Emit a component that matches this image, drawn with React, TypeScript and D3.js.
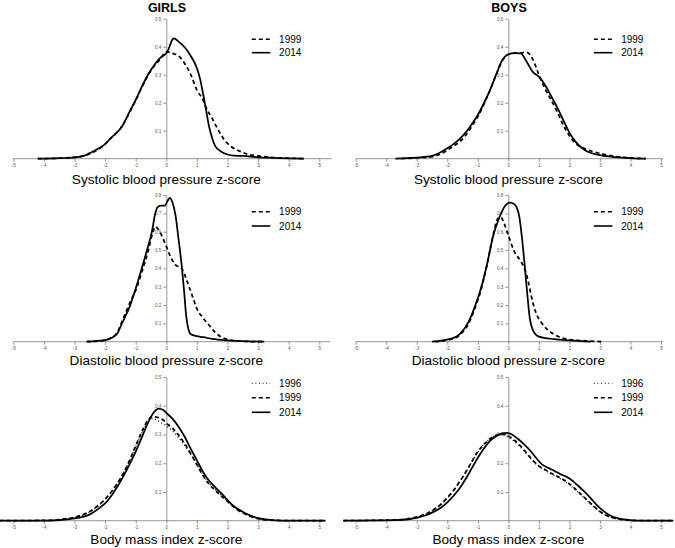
import { useEffect, useRef } from "react";
import * as d3 from "d3";

type Pt = [number, number];

// tick values and labels
const xTicks = [-5, -4, -3, -2, -1, 0, 1, 2, 3, 4, 5];
const yTicksBp = [0.1, 0.2, 0.3, 0.4, 0.5];
const yTicksDbp = [0.1, 0.2, 0.3, 0.4, 0.5, 0.6, 0.7, 0.8];
const groupTitles = ["GIRLS", "BOYS"];
const measureLabels = [
  "Systolic blood pressure z-score",
  "Diastolic blood pressure z-score",
  "Body mass index z-score",
];

// densities: [z-score, density]
const girlsSbp1999: Pt[] = [
  [-4.2, 0], [-3.5, 0.002], [-3, 0.005], [-2.7, 0.01], [-2.5, 0.018], [-2.2, 0.035],
  [-2, 0.052], [-1.8, 0.074], [-1.65, 0.09], [-1.5, 0.108], [-1.4, 0.124], [-1.2, 0.165],
  [-1, 0.208], [-0.8, 0.255], [-0.6, 0.298], [-0.4, 0.33], [-0.2, 0.355], [0, 0.382],
  [0.2, 0.376], [0.4, 0.367], [0.6, 0.34], [0.8, 0.3], [1, 0.245], [1.2, 0.21],
  [1.3, 0.183], [1.5, 0.144], [1.7, 0.102], [1.9, 0.067], [2.1, 0.045], [2.4, 0.027],
  [2.7, 0.015], [3, 0.01], [3.5, 0.004], [4, 0.002], [4.5, 0],
];
const girlsSbp2014: Pt[] = [
  [-4.2, 0], [-3.5, 0.002], [-3, 0.005], [-2.7, 0.01], [-2.5, 0.02], [-2.2, 0.037],
  [-2, 0.052], [-1.8, 0.075], [-1.65, 0.09], [-1.5, 0.107], [-1.4, 0.124], [-1.2, 0.168],
  [-1, 0.21], [-0.8, 0.257], [-0.6, 0.3], [-0.4, 0.334], [-0.2, 0.36], [-0.05, 0.372],
  [0.05, 0.385], [0.12, 0.405], [0.2, 0.426], [0.25, 0.43], [0.4, 0.418], [0.6, 0.398],
  [0.8, 0.367], [1, 0.323], [1.1, 0.287], [1.2, 0.233], [1.3, 0.174], [1.4, 0.114],
  [1.5, 0.073], [1.6, 0.045], [1.8, 0.025], [2, 0.015], [2.2, 0.011], [2.5, 0.01],
  [3, 0.005], [3.5, 0.003], [4, 0.001], [4.5, 0],
];
const boysSbp1999: Pt[] = [
  [-3.5, 0], [-3, 0.003], [-2.5, 0.007], [-2.2, 0.018], [-2, 0.03], [-1.8, 0.045],
  [-1.6, 0.06], [-1.4, 0.083], [-1.2, 0.115], [-1, 0.15], [-0.8, 0.195], [-0.6, 0.245],
  [-0.4, 0.3], [-0.2, 0.35], [0, 0.372], [0.2, 0.377], [0.4, 0.378], [0.6, 0.38],
  [0.8, 0.355], [1, 0.3], [1.2, 0.25], [1.4, 0.21], [1.6, 0.168], [1.8, 0.12],
  [2, 0.082], [2.2, 0.055], [2.5, 0.036], [3, 0.019], [3.5, 0.008], [4, 0.003], [4.5, 0],
];
const boysSbp2014: Pt[] = [
  [-3.7, 0], [-3, 0.004], [-2.5, 0.01], [-2.2, 0.024], [-2, 0.037], [-1.8, 0.052],
  [-1.6, 0.07], [-1.4, 0.093], [-1.2, 0.123], [-1, 0.156], [-0.8, 0.198], [-0.6, 0.245],
  [-0.4, 0.3], [-0.2, 0.352], [0, 0.373], [0.2, 0.377], [0.4, 0.376], [0.6, 0.346],
  [0.8, 0.31], [1, 0.293], [1.2, 0.263], [1.4, 0.224], [1.6, 0.183], [1.8, 0.138],
  [2, 0.093], [2.2, 0.061], [2.4, 0.039], [2.6, 0.025], [3, 0.013], [3.5, 0.006],
  [4, 0.002], [4.5, 0],
];
const girlsDbp1999: Pt[] = [
  [-2.6, 0], [-2, 0.008], [-1.8, 0.022], [-1.6, 0.05], [-1.45, 0.11], [-1.3, 0.17],
  [-1.1, 0.245], [-1, 0.28], [-0.8, 0.38], [-0.6, 0.49], [-0.45, 0.59], [-0.36, 0.627],
  [-0.25, 0.61], [-0.1, 0.56], [0, 0.52], [0.13, 0.467], [0.29, 0.42], [0.5, 0.4],
  [0.7, 0.32], [0.85, 0.25], [1, 0.18], [1.2, 0.13], [1.4, 0.09], [1.6, 0.05],
  [1.8, 0.025], [2, 0.012], [2.3, 0.005], [2.8, 0.001], [3.2, 0],
];
const girlsDbp2014: Pt[] = [
  [-2.6, 0], [-2, 0.008], [-1.8, 0.02], [-1.6, 0.045], [-1.45, 0.1], [-1.2, 0.19],
  [-1, 0.29], [-0.8, 0.4], [-0.63, 0.5], [-0.47, 0.6], [-0.36, 0.7], [-0.28, 0.735],
  [-0.15, 0.742], [-0.05, 0.742], [0.05, 0.77], [0.12, 0.785], [0.2, 0.76], [0.3, 0.69],
  [0.4, 0.56], [0.5, 0.42], [0.58, 0.28], [0.65, 0.14], [0.72, 0.07], [0.8, 0.04],
  [1, 0.03], [1.2, 0.025], [1.5, 0.015], [2, 0.007], [2.5, 0.003], [3.2, 0],
];
const boysDbp1999: Pt[] = [
  [-2.4, 0], [-1.9, 0.012], [-1.6, 0.035], [-1.3, 0.1], [-1.1, 0.18], [-0.9, 0.28],
  [-0.7, 0.42], [-0.5, 0.58], [-0.35, 0.67], [-0.25, 0.68], [-0.15, 0.65], [0, 0.58],
  [0.2, 0.49], [0.4, 0.44], [0.55, 0.39], [0.65, 0.33], [0.75, 0.25], [0.9, 0.16],
  [1.1, 0.1], [1.4, 0.05], [1.65, 0.027], [2, 0.012], [2.4, 0.006], [3.1, 0],
];
const boysDbp2014: Pt[] = [
  [-2.5, 0], [-1.9, 0.015], [-1.6, 0.04], [-1.3, 0.11], [-1.1, 0.19], [-0.9, 0.29],
  [-0.7, 0.42], [-0.5, 0.575], [-0.3, 0.675], [-0.15, 0.73], [0.05, 0.758], [0.2, 0.75],
  [0.35, 0.69], [0.45, 0.56], [0.55, 0.39], [0.62, 0.26], [0.7, 0.13], [0.8, 0.065],
  [1, 0.028], [1.5, 0.014], [2, 0.007], [2.7, 0],
];
const girlsBmi1996: Pt[] = [
  [-5.45, 0], [-4, 0.001], [-3.5, 0.004], [-3, 0.011], [-2.7, 0.021], [-2.5, 0.031],
  [-2.2, 0.054], [-2, 0.074], [-1.8, 0.1], [-1.6, 0.13], [-1.4, 0.166], [-1.2, 0.21],
  [-1, 0.258], [-0.8, 0.305], [-0.6, 0.345], [-0.5, 0.355], [-0.35, 0.352], [-0.2, 0.343],
  [0, 0.33], [0.2, 0.312], [0.4, 0.29], [0.6, 0.262], [0.8, 0.23], [1, 0.195],
  [1.2, 0.16], [1.4, 0.13], [1.6, 0.108], [1.8, 0.088], [2, 0.068], [2.2, 0.049],
  [2.4, 0.034], [2.6, 0.022], [2.8, 0.013], [3, 0.007], [3.4, 0.002], [4, 0], [5.2, 0],
];
const girlsBmi1999: Pt[] = [
  [-5.45, 0], [-4, 0.001], [-3.5, 0.004], [-3, 0.012], [-2.7, 0.022], [-2.5, 0.032],
  [-2.2, 0.055], [-2, 0.075], [-1.8, 0.1], [-1.6, 0.13], [-1.4, 0.165], [-1.2, 0.21],
  [-1, 0.26], [-0.8, 0.31], [-0.6, 0.35], [-0.45, 0.362], [-0.3, 0.36], [-0.1, 0.35],
  [0, 0.34], [0.2, 0.322], [0.4, 0.298], [0.6, 0.268], [0.8, 0.233], [1, 0.195],
  [1.2, 0.157], [1.4, 0.127], [1.6, 0.106], [1.8, 0.086], [2, 0.067], [2.2, 0.048],
  [2.4, 0.033], [2.6, 0.022], [2.8, 0.013], [3, 0.007], [3.4, 0.002], [4, 0], [5.2, 0],
];
const girlsBmi2014: Pt[] = [
  [-5.45, 0], [-4, 0], [-3.5, 0.002], [-3, 0.008], [-2.7, 0.014], [-2.5, 0.022],
  [-2.2, 0.043], [-2, 0.06], [-1.8, 0.086], [-1.6, 0.118], [-1.4, 0.155], [-1.2, 0.196],
  [-1, 0.24], [-0.8, 0.29], [-0.6, 0.34], [-0.4, 0.378], [-0.25, 0.39], [-0.1, 0.385],
  [0, 0.375], [0.2, 0.355], [0.4, 0.327], [0.6, 0.292], [0.8, 0.25], [1, 0.21],
  [1.2, 0.17], [1.4, 0.139], [1.6, 0.116], [1.8, 0.095], [2, 0.072], [2.2, 0.051],
  [2.4, 0.037], [2.6, 0.025], [2.8, 0.016], [3, 0.009], [3.3, 0.004], [3.6, 0.001],
  [4, 0], [5.2, 0],
];
const boysBmi1996: Pt[] = [
  [-5.4, 0], [-4, 0.002], [-3.5, 0.004], [-3, 0.012], [-2.7, 0.023], [-2.5, 0.034],
  [-2.2, 0.057], [-2, 0.079], [-1.8, 0.104], [-1.6, 0.134], [-1.4, 0.167], [-1.2, 0.203],
  [-1, 0.238], [-0.8, 0.265], [-0.6, 0.285], [-0.4, 0.297], [-0.2, 0.3], [0, 0.29],
  [0.2, 0.275], [0.4, 0.255], [0.6, 0.232], [0.8, 0.208], [1, 0.189], [1.2, 0.176],
  [1.4, 0.163], [1.6, 0.152], [1.8, 0.14], [2, 0.125], [2.2, 0.107], [2.4, 0.088],
  [2.6, 0.068], [2.8, 0.049], [3, 0.031], [3.2, 0.018], [3.5, 0.008], [3.8, 0.003],
  [4.2, 0], [5.4, 0],
];
const boysBmi1999: Pt[] = [
  [-5.4, 0], [-4, 0.002], [-3.5, 0.004], [-3, 0.013], [-2.7, 0.024], [-2.5, 0.035],
  [-2.2, 0.058], [-2, 0.08], [-1.8, 0.105], [-1.6, 0.135], [-1.4, 0.168], [-1.2, 0.205],
  [-1, 0.24], [-0.8, 0.265], [-0.6, 0.285], [-0.4, 0.297], [-0.2, 0.302], [0, 0.295],
  [0.2, 0.28], [0.4, 0.26], [0.6, 0.235], [0.8, 0.21], [1, 0.19], [1.2, 0.178],
  [1.4, 0.165], [1.6, 0.155], [1.8, 0.143], [2, 0.128], [2.2, 0.11], [2.4, 0.09],
  [2.6, 0.07], [2.8, 0.05], [3, 0.032], [3.2, 0.019], [3.5, 0.008], [3.8, 0.003],
  [4.2, 0], [5.4, 0],
];
const boysBmi2014: Pt[] = [
  [-5.4, 0], [-4, 0.001], [-3.5, 0.003], [-3, 0.01], [-2.7, 0.019], [-2.5, 0.028],
  [-2.2, 0.046], [-2, 0.064], [-1.8, 0.086], [-1.6, 0.112], [-1.4, 0.145], [-1.2, 0.182],
  [-1, 0.219], [-0.8, 0.251], [-0.6, 0.278], [-0.4, 0.294], [-0.2, 0.304], [-0.05, 0.306],
  [0.1, 0.301], [0.3, 0.286], [0.5, 0.267], [0.7, 0.246], [0.9, 0.22], [1.1, 0.196],
  [1.3, 0.184], [1.5, 0.174], [1.7, 0.162], [1.9, 0.153], [2.1, 0.139], [2.3, 0.12],
  [2.5, 0.1], [2.7, 0.078], [2.9, 0.054], [3.1, 0.035], [3.3, 0.02], [3.6, 0.008],
  [4, 0.002], [4.5, 0], [5.4, 0],
];

const FONT = "'Liberation Sans', Arial, sans-serif";
const dashFor: Record<string, string | null> = {
  "1996": "1,2.6",
  "1999": "4,3",
  "2014": null,
};

// layout of the 3x2 grid (pixels)
const cols = [
  { x0: 13.3, x1: 319.3 },
  { x0: 355.7, x1: 661 },
];
const rows = [
  { base: 158.7, top: 18.7, yMax: 0.5, ticks: yTicksBp, legendY: 39.3, legendGap: 13.4, labelY: 184 },
  { base: 341.7, top: 195, yMax: 0.8, ticks: yTicksDbp, legendY: 211.7, legendGap: 14.3, labelY: 364.5 },
  { base: 520.7, top: 377, yMax: 0.5, ticks: yTicksBp, legendY: 383.3, legendGap: 14.5, labelY: 543.5 },
];

const panels = [
  { row: 0, col: 0, axisEnd: 5.4, series: [["1999", girlsSbp1999], ["2014", girlsSbp2014]] },
  { row: 0, col: 1, axisEnd: 5.07, series: [["1999", boysSbp1999], ["2014", boysSbp2014]] },
  { row: 1, col: 0, axisEnd: 5.35, series: [["1999", girlsDbp1999], ["2014", girlsDbp2014]] },
  { row: 1, col: 1, axisEnd: 5.07, series: [["1999", boysDbp1999], ["2014", boysDbp2014]] },
  { row: 2, col: 0, axisEnd: 5.2, series: [["1996", girlsBmi1996], ["1999", girlsBmi1999], ["2014", girlsBmi2014]] },
  { row: 2, col: 1, axisEnd: 5.4, series: [["1996", boysBmi1996], ["1999", boysBmi1999], ["2014", boysBmi2014]] },
] as { row: number; col: number; axisEnd: number; series: [string, Pt[]][] }[];

export default function App() {
  const ref = useRef<SVGSVGElement>(null);

  useEffect(() => {
    if (!ref.current) return;
    const svg = d3.select(ref.current);
    svg.selectAll("*").remove();

    panels.forEach((p) => {
      const r = rows[p.row];
      const c = cols[p.col];
      const x = d3.scaleLinear().domain([-5, 5]).range([c.x0, c.x1]);
      const y = d3.scaleLinear().domain([0, r.yMax]).range([r.base, r.top]);
      const g = svg.append("g");

      // x axis
      const xa = g
        .append("g")
        .attr("transform", `translate(0,${r.base})`)
        .call(
          d3
            .axisBottom(x)
            .tickValues(xTicks)
            .tickSize(3)
            .tickSizeOuter(0)
            .tickPadding(2)
            .tickFormat((d) => String(d))
        );
      xa.select(".domain").remove();
      xa.append("line")
        .attr("x1", x(-5))
        .attr("x2", x(p.axisEnd))
        .attr("stroke", "#7a7a7a")
        .attr("stroke-width", 0.8);

      // y axis at z = 0
      const ya = g
        .append("g")
        .attr("transform", `translate(${x(0)},0)`)
        .call(
          d3
            .axisLeft(y)
            .tickValues(r.ticks)
            .tickSize(3)
            .tickSizeOuter(0)
            .tickPadding(2)
            .tickFormat((d) => String(d))
        );
      ya.select(".domain").attr("stroke", "#7a7a7a").attr("stroke-width", 0.8);

      [xa, ya].forEach((a) => {
        a.selectAll(".tick line").attr("stroke", "#7a7a7a").attr("stroke-width", 0.8);
        a.selectAll(".tick text")
          .attr("fill", "#555")
          .style("font-family", FONT)
          .style("font-size", "4.6px");
      });

      // density curves
      const line = d3
        .line<Pt>()
        .x((d) => x(d[0]))
        .y((d) => y(d[1]))
        .curve(d3.curveMonotoneX);

      p.series.forEach(([year, data]) => {
        const path = g
          .append("path")
          .datum(data)
          .attr("fill", "none")
          .attr("stroke", "#000")
          .attr("stroke-width", year === "1996" ? 1.3 : 1.75)
          .attr("d", line);
        if (dashFor[year]) path.attr("stroke-dasharray", dashFor[year] as string);
      });

      // legend
      const cx = x(0);
      p.series.forEach(([year], i) => {
        const ly = r.legendY + i * r.legendGap;
        const l = g
          .append("line")
          .attr("x1", cx + 85.5)
          .attr("x2", cx + 104)
          .attr("y1", ly)
          .attr("y2", ly)
          .attr("stroke", "#000")
          .attr("stroke-width", year === "1996" ? 1.1 : 1.6);
        if (dashFor[year]) l.attr("stroke-dasharray", dashFor[year] as string);
        g.append("text")
          .attr("x", cx + 112.8)
          .attr("y", ly)
          .attr("dy", "0.36em")
          .style("font-family", FONT)
          .style("font-size", "10px")
          .attr("fill", "#000")
          .text(year);
      });

      // measure label under the axis
      g.append("text")
        .attr("x", cx)
        .attr("y", r.labelY)
        .attr("text-anchor", "middle")
        .style("font-family", FONT)
        .style("font-size", "13.6px")
        .attr("fill", "#000")
        .text(measureLabels[p.row]);

      if (p.row === 0) {
        g.append("text")
          .attr("x", cx + 0.7)
          .attr("y", 12.3)
          .attr("text-anchor", "middle")
          .style("font-family", FONT)
          .style("font-size", "12.5px")
          .style("font-weight", "700")
          .attr("fill", "#000")
          .text(groupTitles[p.col]);
      }
    });
  }, []);

  return (
    <svg
      ref={ref}
      width={675}
      height={548}
      style={{ position: "absolute", left: 0, top: 0, background: "#fff" }}
    />
  );
}
